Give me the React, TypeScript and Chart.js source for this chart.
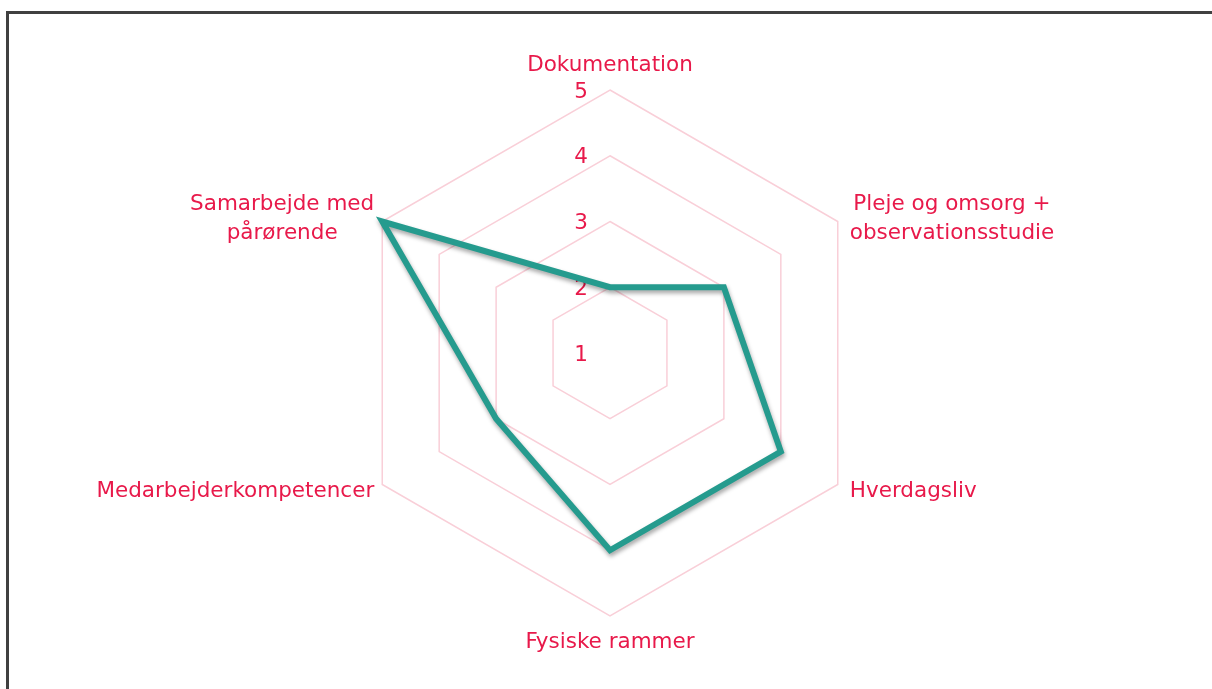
import React, { useEffect, useRef } from "react";
import { Chart, registerables } from "chart.js";

Chart.register(...registerables);

const categories: string[][] = [
  ["Dokumentation"],
  ["Pleje og omsorg +", "observationsstudie"],
  ["Hverdagsliv"],
  ["Fysiske rammer"],
  ["Medarbejderkompetencer"],
  ["Samarbejde med", "pårørende"],
];
const seriesValues: number[] = [2, 3, 4, 4, 3, 5];
const tickValues: number[] = [1, 2, 3, 4, 5];
const scaleMin = 1;
const scaleMax = 5;

const LABEL_COLOR = "#E8194A";
const GRID_COLOR = "#F9CFD8";
const LINE_COLOR = "#259B8E";
const FONT = "21.5px 'DejaVu Sans', sans-serif";

const labelPlugin = {
  id: "customLabels",
  beforeDatasetsDraw(chart: any) {
    const scale = chart.scales.r;
    const ctx = chart.ctx as CanvasRenderingContext2D;
    ctx.save();
    ctx.font = FONT;
    ctx.fillStyle = LABEL_COLOR;
    ctx.textAlign = "center";
    ctx.textBaseline = "middle";
    tickValues.forEach((v) => {
      const p = scale.getPointPositionForValue(0, v);
      ctx.fillText(String(v), p.x - 29, p.y + 2);
    });
    const n = categories.length;
    const lineH = 29;
    categories.forEach((lines, i) => {
      const p = scale.getPointPosition(i, scale.drawingArea);
      const widths = lines.map((l) => ctx.measureText(l).width);
      const blockW = Math.max(...widths);
      const blockH = lines.length * lineH;
      const angle = (360 / n) * i;
      let cx: number;
      let cy: number;
      if (angle === 0) {
        cx = p.x;
        cy = p.y - 25;
      } else if (angle === 180) {
        cx = p.x;
        cy = p.y + 26;
      } else if (angle < 180) {
        cx = p.x + 12 + blockW / 2;
        cy = angle < 90 ? p.y - 3 : p.y + 7;
      } else {
        cx = p.x - 8 - blockW / 2;
        cy = angle > 270 ? p.y - 3 : p.y + 7;
      }
      const top = cy - blockH / 2;
      lines.forEach((l, k) => {
        ctx.fillText(l, cx, top + lineH * k + lineH / 2);
      });
    });
    ctx.restore();
  },
};

const shadowPlugin = {
  id: "lineShadow",
  beforeDatasetDraw(chart: any) {
    const ctx = chart.ctx as CanvasRenderingContext2D;
    ctx.save();
    ctx.shadowColor = "rgba(0,0,0,0.35)";
    ctx.shadowBlur = 4;
    ctx.shadowOffsetX = 1;
    ctx.shadowOffsetY = 3;
  },
  afterDatasetDraw(chart: any) {
    chart.ctx.restore();
  },
};

export default function App() {
  const ref = useRef<HTMLCanvasElement>(null);
  useEffect(() => {
    if (!ref.current) return;
    const chart = new Chart(ref.current, {
      type: "radar",
      data: {
        labels: categories,
        datasets: [
          {
            data: seriesValues,
            borderColor: LINE_COLOR,
            backgroundColor: "transparent",
            borderWidth: 6,
            fill: false,
            pointRadius: 0,
            pointHoverRadius: 0,
            tension: 0,
          },
        ],
      },
      options: {
        animation: false,
        responsive: false,
        maintainAspectRatio: false,
        layout: { padding: { top: 90, bottom: 73, left: 347, right: 339 } },
        plugins: { legend: { display: false }, tooltip: { enabled: false } },
        scales: {
          r: {
            min: scaleMin,
            max: scaleMax,
            ticks: { display: false, stepSize: 1 },
            pointLabels: { display: false },
            angleLines: { display: false },
            grid: { color: GRID_COLOR, lineWidth: 1.5 },
          },
        },
      },
      plugins: [labelPlugin, shadowPlugin],
    });
    return () => chart.destroy();
  }, []);
  return (
    <div style={{ position: "fixed", inset: 0, overflow: "hidden", background: "#fff" }}>
      <div
        style={{
          position: "absolute",
          left: 6,
          top: 11,
          width: 1400,
          height: 900,
          borderTop: "3px solid #404040",
          borderLeft: "3px solid #404040",
        }}
      />
      <canvas ref={ref} width={1212} height={689} style={{ position: "absolute", left: 0, top: 0 }} />
    </div>
  );
}
